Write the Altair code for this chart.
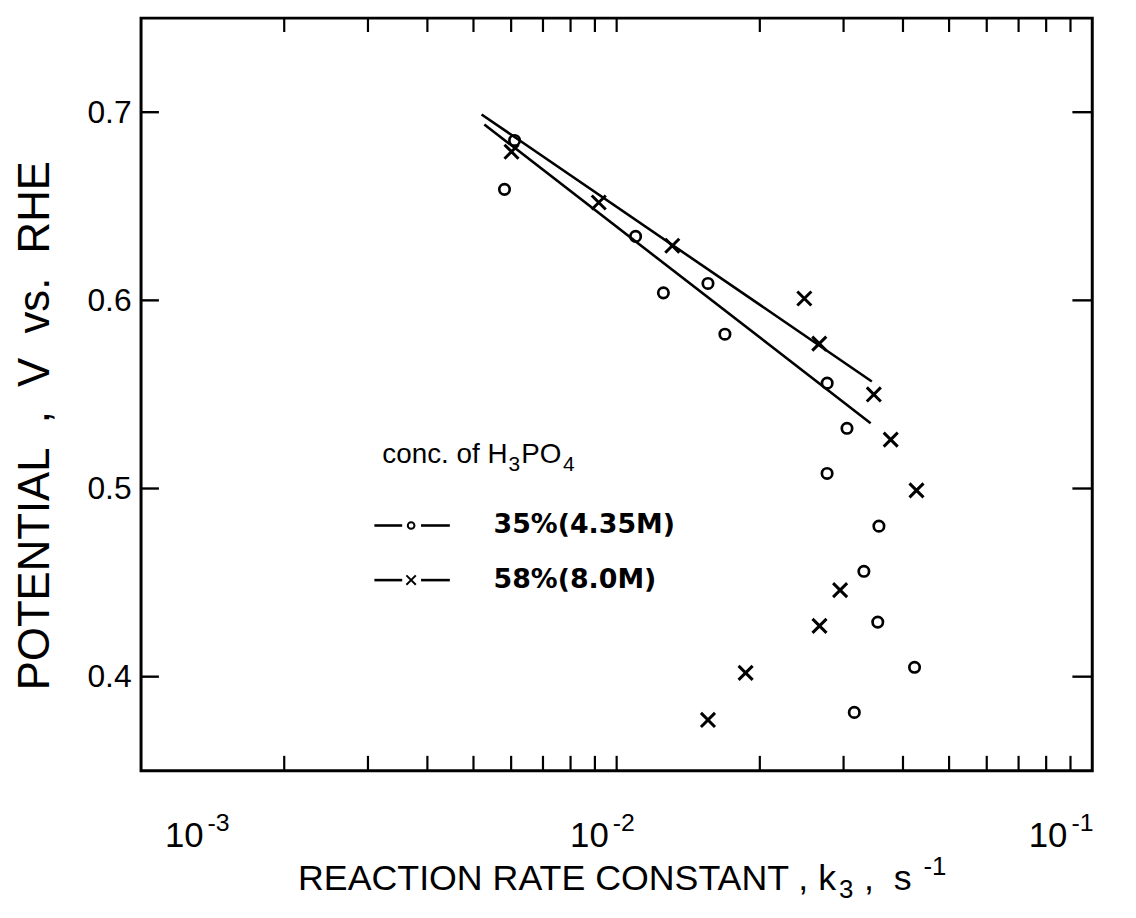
import altair as alt
import pandas as pd

# ---- data ----
k_35 = [0.00610, 0.00581, 0.01096, 0.01254, 0.01556, 0.01689, 0.02771, 0.03050,
        0.02770, 0.03560, 0.03310, 0.03540, 0.04230, 0.03160]
v_35 = [0.685, 0.659, 0.634, 0.604, 0.609, 0.582, 0.556, 0.532,
        0.508, 0.480, 0.456, 0.429, 0.405, 0.381]

k_58 = [0.00601, 0.00917, 0.01309, 0.02481, 0.02667, 0.03473, 0.03769, 0.04270,
        0.02950, 0.02670, 0.01867, 0.01556]
v_58 = [0.679, 0.652, 0.629, 0.601, 0.577, 0.550, 0.526, 0.499,
        0.446, 0.427, 0.402, 0.377]

fit_35_k = [0.00527, 0.0342]
fit_35_v = [0.6935, 0.5347]
fit_58_k = [0.00520, 0.0344]
fit_58_v = [0.6988, 0.5569]

x_minor = [2e-3, 3e-3, 4e-3, 5e-3, 6e-3, 7e-3, 8e-3, 9e-3, 1e-2,
           2e-2, 3e-2, 4e-2, 5e-2, 6e-2, 7e-2, 8e-2, 9e-2]
y_ticks = [0.4, 0.5, 0.6, 0.7]
x_decades = [1e-3, 1e-2, 1e-1]
x_exps = ["-3", "-2", "-1"]

legend_labels = ["35%(4.35M)", "58%(8.0M)"]
y_title = "POTENTIAL\u00a0\u00a0,\u00a0\u00a0V\u00a0\u00a0vs.\u00a0\u00a0RHE"

# ---- layout / style ----
W, H = 958, 758
FONT = "Liberation Sans"
label_dx = [63, -8, -25]

xs = alt.Scale(type="log", domain=[1e-3, 1e-1], nice=False)
ys = alt.Scale(domain=[0.35, 0.75], nice=False, zero=False)
one = pd.DataFrame({"i": [0]})

yaxis = alt.Axis(values=y_ticks, format=".1f", labelFontSize=32, labelFont=FONT,
                 labelColor="black", labelPadding=10, ticks=False, domain=False,
                 grid=False, title=y_title, titleFontSize=44,
                 titleFont=FONT, titleFontWeight="normal", titleColor="black",
                 titleX=-106, titleY=410, titleAngle=270, titleAlign="center",
                 titleBaseline="middle")

def X():
    return alt.X("k:Q", scale=xs, axis=None)

def Y():
    return alt.Y("v:Q", scale=ys, axis=yaxis)

df35 = pd.DataFrame({"k": k_35, "v": v_35})
df58 = pd.DataFrame({"k": k_58, "v": v_58})
f35 = pd.DataFrame({"k": fit_35_k, "v": fit_35_v})
f58 = pd.DataFrame({"k": fit_58_k, "v": fit_58_v})
tk = pd.DataFrame({"k": x_minor})
ty = pd.DataFrame({"v": y_ticks})

XPATH = "M-1,-1L1,1M1,-1L-1,1"

layers = []
layers.append(alt.Chart(f35).mark_line(color="black", strokeWidth=2.6).encode(x=X(), y=Y()))
layers.append(alt.Chart(f58).mark_line(color="black", strokeWidth=2.6).encode(x=X(), y=Y()))
layers.append(alt.Chart(df35).mark_point(shape="circle", filled=False, color="black",
                                         size=110, strokeWidth=2.7, opacity=1).encode(x=X(), y=Y()))
layers.append(alt.Chart(df58).mark_point(shape=XPATH, filled=False, color="black",
                                         size=200, strokeWidth=3, opacity=1).encode(x=X(), y=Y()))
# inward ticks
layers.append(alt.Chart(tk).mark_rule(color="black", strokeWidth=2.2).encode(
    x=X(), y=alt.value(0), y2=alt.value(14)))
layers.append(alt.Chart(tk).mark_rule(color="black", strokeWidth=2.2).encode(
    x=X(), y=alt.value(H - 15), y2=alt.value(H)))
layers.append(alt.Chart(ty).mark_rule(color="black", strokeWidth=2.4).encode(
    y=Y(), x=alt.value(0), x2=alt.value(18)))
layers.append(alt.Chart(ty).mark_rule(color="black", strokeWidth=2.4).encode(
    y=Y(), x=alt.value(W - 20), x2=alt.value(W)))

# x tick labels 10^n
for d, e, dx in zip(x_decades, x_exps, label_dx):
    dd = pd.DataFrame({"k": [d]})
    layers.append(alt.Chart(dd).mark_text(align="right", baseline="middle", dx=dx,
                                          fontSize=35, font=FONT, color="black").encode(
        x=X(), y=alt.value(H + 66), text=alt.value("10")))
    layers.append(alt.Chart(dd).mark_text(align="left", baseline="middle", dx=dx + 4,
                                          fontSize=25, font=FONT, color="black").encode(
        x=X(), y=alt.value(H + 53), text=alt.value(e)))

def txt(s, x, y, size, align="left", font=FONT, weight="normal"):
    return alt.Chart(one).mark_text(align=align, baseline="middle", fontSize=size,
                                    font=font, fontWeight=weight, color="black").encode(
        x=alt.value(x), y=alt.value(y), text=alt.value(s))

# x title pieces
TX, TY = 700, 867
layers.append(txt("REACTION RATE CONSTANT , k", TX, TY, 36, "right"))
layers.append(txt("3", TX + 3, TY + 11, 26))
layers.append(txt("\u00a0,\u00a0\u00a0s", TX + 28, TY, 36))
layers.append(txt("-1", TX + 88, TY - 12, 26))

# legend
LX, LY = 243, 440
layers.append(txt("conc. of H", LX, LY, 28))
layers.append(txt("3", LX + 127, LY + 10, 21))
layers.append(txt("PO", LX + 140, LY, 28))
layers.append(txt("4", LX + 182, LY + 10, 21))

rows_y = [511, 566]
for ry, lab, shp, sz in zip(rows_y, legend_labels, ["circle", XPATH], [45, 90]):
    layers.append(alt.Chart(one).mark_rule(color="black", strokeWidth=2.6).encode(
        x=alt.value(235), x2=alt.value(263), y=alt.value(ry)))
    layers.append(alt.Chart(one).mark_rule(color="black", strokeWidth=2.6).encode(
        x=alt.value(282), x2=alt.value(311), y=alt.value(ry)))
    layers.append(alt.Chart(one).mark_point(shape=shp, filled=False, color="black",
                                            size=sz, strokeWidth=2, opacity=1).encode(
        x=alt.value(272), y=alt.value(ry)))
    layers.append(txt(lab, 355, ry, 27, font="DejaVu Sans", weight="bold"))

chart = alt.layer(*layers).properties(
    width=W, height=H,
    autosize=alt.AutoSizeParams(type="none"),
    padding={"left": 134, "top": 7, "right": 36, "bottom": 130},
    background="white",
).configure_view(stroke="black", strokeWidth=3)

chart.save("out.html", embed_options={"renderer": "svg", "actions": False})
